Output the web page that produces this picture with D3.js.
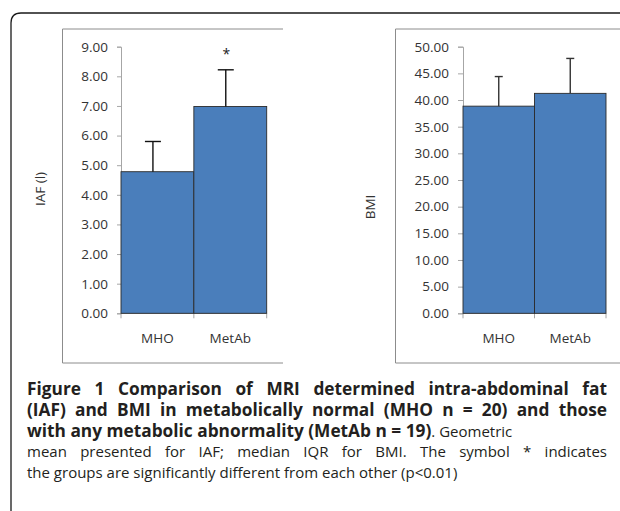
<!DOCTYPE html>
<html>
<head>
<meta charset="utf-8">
<script src="https://cdn.jsdelivr.net/npm/d3@7"></script>
<style>
  body { margin: 0; background: #fff; }
  svg { display: block; }
</style>
</head>
<body>
<div id="fig"></div>
<script>
// values
var categories = ["MHO", "MetAb"];
var iafValues = [4.78, 6.98];
var iafUpper = [5.80, 8.22];
var bmiValues = [38.85, 41.25];
var bmiUpper = [44.4, 47.8];
var iafTicks = [0, 1, 2, 3, 4, 5, 6, 7, 8, 9];
var bmiTicks = [0, 5, 10, 15, 20, 25, 30, 35, 40, 45, 50];
var sigMarks = ["", "*"];

var width = 620, height = 511;
var svg = d3.select("#fig").append("svg")
  .attr("width", width)
  .attr("height", height);

// outer frame, rounded top-left corner
svg.append("path")
  .attr("d", "M11," + height + " L11,23 Q11,13 21,13 L" + width + ",13")
  .attr("fill", "none")
  .attr("stroke", "#1a1a1a")
  .attr("stroke-width", 1.3);

var panels = [
  {box: [62.5, 29, 283, 363], xr: [121, 266.7], max: 9, ticks: iafTicks,
   vals: iafValues, upper: iafUpper, label: "IAF (l)", lx: 40, ly: 189,
   errShift: -4.5, cap: 16, errColor: "#111", tickLen: 4},
  {box: [395.5, 29, 630, 363], xr: [463, 606], max: 50, ticks: bmiTicks,
   vals: bmiValues, upper: bmiUpper, label: "BMI", lx: 370, ly: 207,
   errShift: 0, cap: 8, errColor: "#333", tickLen: 5}
];

panels.forEach(function(p, pi) {
  var g = svg.append("g");
  var b = p.box;
  g.append("path")
    .attr("d", "M" + b[2] + "," + b[1] + " L" + b[0] + "," + b[1] + " L" + b[0] + "," + b[3] + " L" + b[2] + "," + b[3])
    .attr("fill", "none")
    .attr("stroke", "#8c8c8c")
    .attr("stroke-width", 1);

  var x = d3.scaleBand().domain(categories).range(p.xr).padding(0);
  var y = d3.scaleLinear().domain([0, p.max]).range([313.3, 46.7]);

  var yAxis = d3.axisLeft(y)
    .tickValues(p.ticks)
    .tickFormat(d3.format(".2f"))
    .tickSize(p.tickLen)
    .tickPadding(9);
  var ya = g.append("g")
    .attr("transform", "translate(" + p.xr[0] + ",0)")
    .call(yAxis);
  ya.select(".domain").attr("stroke", "#a6a6a6");
  ya.selectAll(".tick line").attr("stroke", "#a6a6a6");
  ya.selectAll(".tick text")
    .attr("fill", "#333")
    .style("font-family", "'Open Sans', sans-serif")
    .style("font-size", "13.5px");

  // bottom axis line and boundary ticks
  g.append("line")
    .attr("x1", p.xr[0]).attr("x2", p.xr[1])
    .attr("y1", y(0)).attr("y2", y(0))
    .attr("stroke", "#a6a6a6");
  var bounds = categories.map(function(c) { return x(c); }).concat([x(categories[categories.length - 1]) + x.bandwidth()]);
  g.selectAll(".xt").data(bounds).enter().append("line")
    .attr("x1", function(d) { return d; }).attr("x2", function(d) { return d; })
    .attr("y1", y(0)).attr("y2", y(0) + 5)
    .attr("stroke", "#a6a6a6");

  // bars
  g.selectAll(".bar").data(p.vals).enter().append("rect")
    .attr("x", function(d, i) { return x(categories[i]); })
    .attr("y", function(d) { return y(d); })
    .attr("width", x.bandwidth())
    .attr("height", function(d) { return y(0) - y(d); })
    .attr("fill", "#4a7ebb")
    .attr("stroke", "#2b2b2b")
    .attr("stroke-width", 0.9);

  // error bars (upper only)
  var ex = function(i) { return x(categories[i]) + x.bandwidth() / 2 + p.errShift; };
  p.vals.forEach(function(v, i) {
    g.append("line")
      .attr("x1", ex(i)).attr("x2", ex(i))
      .attr("y1", y(v)).attr("y2", y(p.upper[i]))
      .attr("stroke", p.errColor).attr("stroke-width", 1.4);
    g.append("line")
      .attr("x1", ex(i) - p.cap / 2).attr("x2", ex(i) + p.cap / 2)
      .attr("y1", y(p.upper[i])).attr("y2", y(p.upper[i]))
      .attr("stroke", p.errColor).attr("stroke-width", 1.4);
    if (pi === 0 && sigMarks[i]) {
      g.append("text")
        .attr("x", ex(i) + 0.5)
        .attr("y", y(p.upper[i]) - 11)
        .attr("text-anchor", "middle")
        .attr("fill", "#222")
        .style("font-family", "'Open Sans', sans-serif")
        .style("font-size", "14px")
        .text(sigMarks[i]);
    }
  });

  // category labels
  g.selectAll(".cl").data(categories).enter().append("text")
    .attr("x", function(d) { return x(d) + x.bandwidth() / 2; })
    .attr("y", 343)
    .attr("text-anchor", "middle")
    .attr("fill", "#333")
    .style("font-family", "'Open Sans', sans-serif")
    .style("font-size", "13.5px")
    .text(function(d) { return d; });

  // y title
  g.append("text")
    .attr("transform", "translate(" + (p.lx + 4.5) + "," + p.ly + ") rotate(-90)")
    .attr("text-anchor", "middle")
    .attr("fill", "#333")
    .style("font-family", "'Open Sans', sans-serif")
    .style("font-size", "13.5px")
    .text(p.label);
});

// caption
var captionLines = [
  [["b", "Figure 1 Comparison of MRI determined intra-abdominal fat"]],
  [["b", "(IAF) and BMI in metabolically normal (MHO n = 20) and those"]],
  [["b", "with any metabolic abnormality (MetAb n = 19)"], ["r", ". Geometric"]],
  [["r", "mean presented for IAF; median IQR for BMI. The symbol * indicates"]],
  [["r", "the groups are significantly different from each other (p<0.01)"]]
];
var justifyTo = [607, 607, 0, 607, 0];
var capX = 27;
var boldSize = 17.3, regSize = 15;

captionLines.forEach(function(line, li) {
  var t = svg.append("text")
    .attr("x", capX)
    .attr("y", 395 + li * 20.8)
    .attr("fill", "#231f20")
    .style("font-family", "'Open Sans', sans-serif");
  line.forEach(function(part) {
    t.append("tspan")
      .style("font-weight", part[0] === "b" ? 700 : 400)
      .style("font-size", (part[0] === "b" ? boldSize : regSize) + "px")
      .text(part[1]);
  });
  if (!justifyTo[li]) return;
  var natural = t.node().getComputedTextLength();
  var spaces = line.map(function(p) { return p[1]; }).join("").split(" ").length - 1;
  t.style("word-spacing", ((justifyTo[li] - capX - natural) / spaces) + "px");
});
</script>
</body>
</html>
